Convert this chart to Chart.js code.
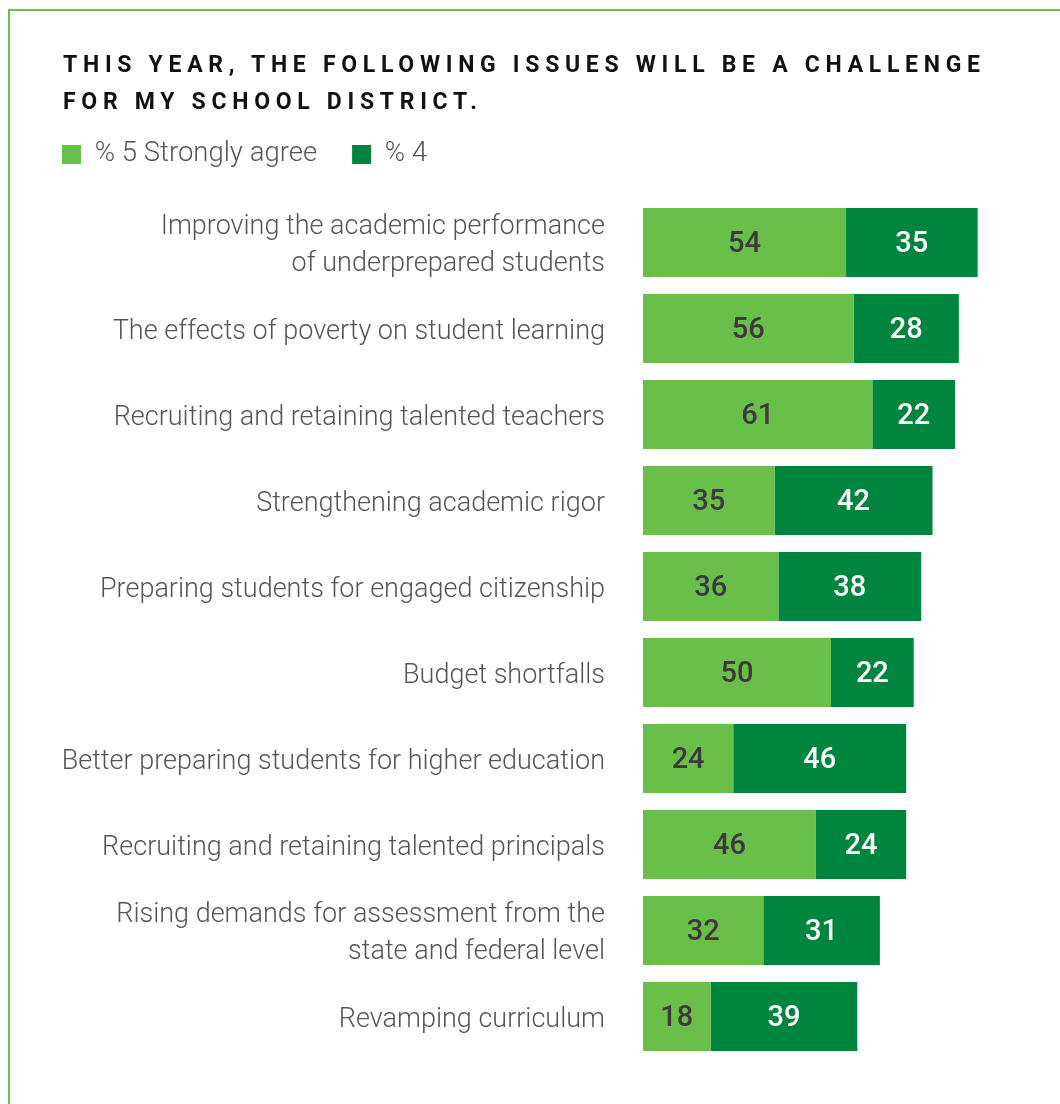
<!DOCTYPE html>
<html>
<head>
<meta charset="utf-8">
<script src="https://cdn.jsdelivr.net/npm/chart.js@4/dist/chart.umd.min.js"></script>
<style>
  html, body { margin: 0; padding: 0; background: #fff; }
  body { width: 1060px; height: 1104px; position: relative; overflow: hidden; font-family: Roboto, "Liberation Sans", sans-serif; }
  #frame { position: absolute; left: 8px; top: 9px; width: 1100px; height: 1200px; border-left: 2px solid #6cc24a; border-top: 2px solid #6cc24a; box-sizing: border-box; }
  #title { position: absolute; left: 63px; top: 46px; font-size: 23px; font-weight: 700; line-height: 37px; letter-spacing: 5.7px; color: #111; text-transform: uppercase; white-space: nowrap; z-index: 2; }
  #wrap { position: absolute; left: 0; top: 0; width: 1060px; height: 1104px; }
  canvas { display: block; }
</style>
</head>
<body>
<div id="frame"></div>
<div id="title">This year, the following issues will be a challenge<br>for my school district.</div>
<div id="wrap"><canvas id="c" width="1060" height="1104" style="width:1060px;height:1104px"></canvas></div>
<script>
const categories = [
  ["Improving the academic performance", "of underprepared students"],
  "The effects of poverty on student learning",
  "Recruiting and retaining talented teachers",
  "Strengthening academic rigor",
  "Preparing students for engaged citizenship",
  "Budget shortfalls",
  "Better preparing students for higher education",
  "Recruiting and retaining talented principals",
  ["Rising demands for assessment from the", "state and federal level"],
  "Revamping curriculum"
];
const seriesNames = ["% 5 Strongly agree", "% 4"];
const strongly = [54, 56, 61, 35, 36, 50, 24, 46, 32, 18];
const agree = [35, 28, 22, 42, 38, 22, 46, 24, 31, 39];
const colors = ["#6abf4b", "#00853f"];
const labelColors = ["#3d3a3d", "#ffffff"];

const LEG_PAD = 35;
const PAD_LEFT = 62 - LEG_PAD;
const PAD_TOP = 145 - LEG_PAD - (27.5 - 19) / 2;

const valueLabels = {
  id: 'valueLabels',
  afterDatasetsDraw(chart) {
    const ctx = chart.ctx;
    ctx.save();
    ctx.font = '500 29px Roboto, "Liberation Sans", sans-serif';
    ctx.textAlign = 'center';
    ctx.textBaseline = 'middle';
    chart.data.datasets.forEach((ds, di) => {
      const meta = chart.getDatasetMeta(di);
      meta.data.forEach((bar, i) => {
        const p = bar.getProps(['x', 'y', 'base'], true);
        ctx.fillStyle = labelColors[di];
        ctx.fillText(String(ds.data[i]), (p.x + p.base) / 2, p.y + 2.5);
      });
    });
    ctx.restore();
  }
};

new Chart(document.getElementById('c'), {
  type: 'bar',
  data: {
    labels: categories,
    datasets: [
      { label: seriesNames[0], data: strongly, backgroundColor: colors[0] },
      { label: seriesNames[1], data: agree, backgroundColor: colors[1] }
    ]
  },
  options: {
    indexAxis: 'y',
    responsive: false,
    maintainAspectRatio: false,
    animation: false,
    devicePixelRatio: 1,
    layout: { padding: { left: PAD_LEFT, right: 41, top: PAD_TOP, bottom: 44.5 } },
    datasets: { bar: { categoryPercentage: 1, barPercentage: 0.8, borderWidth: 0 } },
    plugins: {
      legend: {
        position: 'top',
        align: 'start',
        labels: {
          boxWidth: 19,
          boxHeight: 19,
          padding: LEG_PAD,
          color: '#555555',
          font: { family: 'Roboto, "Liberation Sans", sans-serif', size: 27.5, weight: 300 }
        }
      },
      tooltip: { enabled: false },
      title: { display: false }
    },
    scales: {
      x: {
        position: 'top',
        stacked: true,
        min: 0,
        max: 100,
        grid: { display: false, drawTicks: false },
        border: { display: false },
        ticks: { display: false },
        afterFit(s) {
          const lh = s.chart.legend ? s.chart.legend.height : 0;
          s.height = Math.max(0, 199.5 - PAD_TOP - lh);
        }
      },
      y: {
        stacked: true,
        grid: { display: false, drawTicks: false },
        border: { display: false },
        ticks: {
          padding: 38,
          labelOffset: 3.5,
          color: '#555555',
          font: { family: 'Roboto, "Liberation Sans", sans-serif', size: 27, weight: 300, lineHeight: 1.37 }
        },
        afterFit(s) {
          s.width = 643 - PAD_LEFT;
          s.paddingTop = 0;
          s.paddingBottom = 0;
        }
      }
    }
  },
  plugins: [valueLabels]
});
</script>
</body>
</html>
